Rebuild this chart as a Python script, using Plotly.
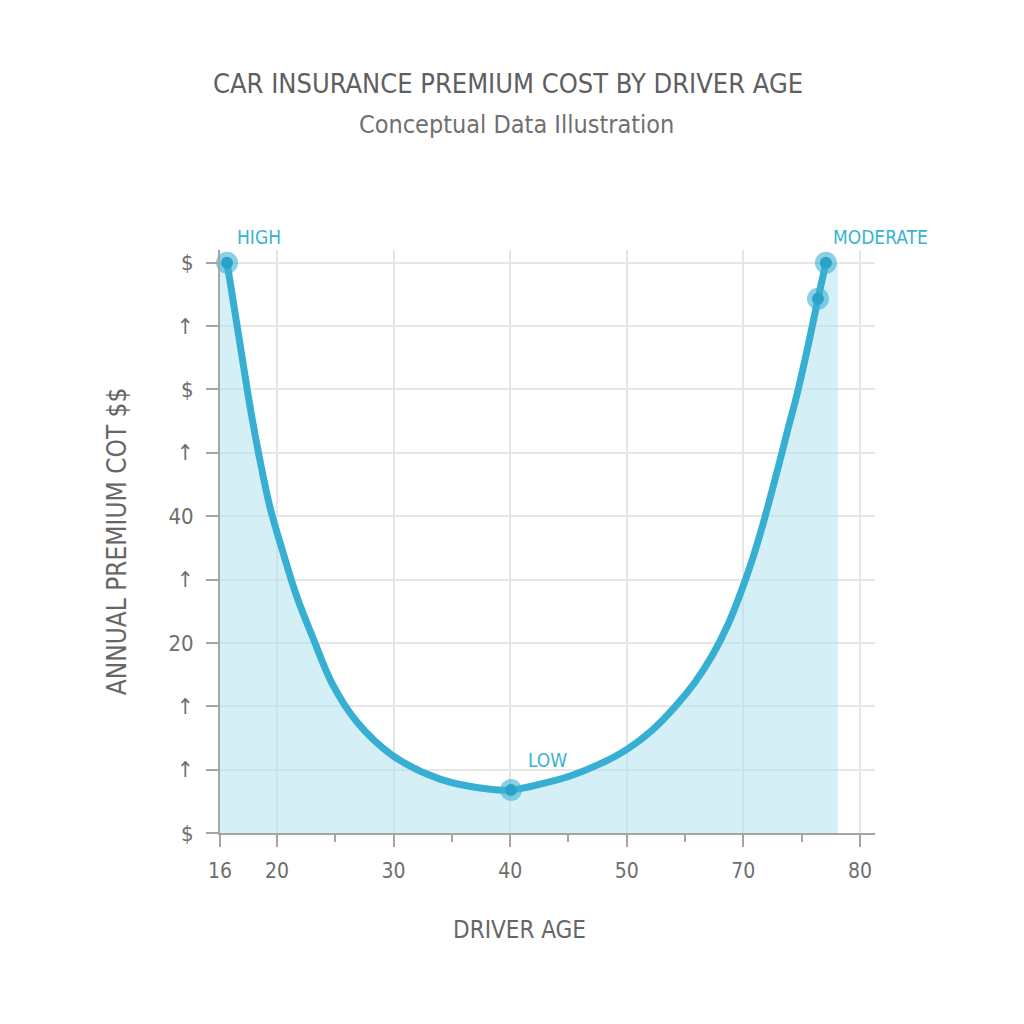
import plotly.graph_objects as go

# Curve (x in axis position units, y in tick-step units)
age_pos = [15.71, 16.40, 17.08, 17.77, 18.54, 19.40, 20.51, 21.72, 23.17, 24.72, 26.86,
           29.86, 33.98, 38.27, 40.07,
           42.56, 45.13, 47.70, 50.02, 52.16, 54.13, 55.85, 57.39, 58.68, 59.79, 60.74,
           61.60, 62.37, 63.14, 63.83, 64.60, 65.54, 66.40, 67.08]
premium = [9.00, 8.21, 7.42, 6.64, 5.88, 5.14, 4.43, 3.72, 3.04, 2.36, 1.75,
           1.23, 0.85, 0.69, 0.68,
           0.77, 0.90, 1.09, 1.32, 1.62, 1.99, 2.38, 2.82, 3.29, 3.80, 4.30,
           4.82, 5.34, 5.88, 6.38, 6.92, 7.68, 8.43, 9.00]

marker_x = [15.71, 40.07, 66.4, 67.08]
marker_y = [9.0, 0.68, 8.43, 9.0]

label_text = ["HIGH", "LOW", "MODERATE"]
label_x = [18.46, 43.16, 71.8]
label_y = [9.41, 1.15, 9.41]

x_tickvals = [15.11, 20, 30, 40, 50, 60, 70]
x_ticktext = ["16", "20", "30", "40", "50", "70", "80"]
x_minor = [25, 35, 45, 55, 65]

y_tickvals = [0, 1, 2, 3, 4, 5, 6, 7, 8, 9]
y_ticktext = ["$", "↑", "↑", "20", "↑", "40", "↑", "$", "↑", "$"]

fill_left = 15.11
fill_right = 68.11

X_RANGE = [15.11, 71.29]
Y_RANGE = [0, 9.2]

FONT = "Liberation Sans Narrow, DejaVu Sans Condensed, Roboto Condensed, Arial Narrow, sans-serif"
GREY = "#666666"
BLUE = "#36afd2"

# plot area in pixels: x 220..875, y 250..833
L, R, T, B = 220, 875, 250, 833


def px_to_paper(px):
    return (px - L) / (R - L)


def py_to_paper(py):
    return (B - py) / (B - T)


def data_to_paper(x, y):
    return ((x - X_RANGE[0]) / (X_RANGE[1] - X_RANGE[0]),
            (y - Y_RANGE[0]) / (Y_RANGE[1] - Y_RANGE[0]))


fig = go.Figure()

# Fill area
fx = [fill_left, fill_left] + age_pos + [fill_right, fill_right]
fy = [0, premium[0]] + premium + [premium[-1], 0]
fig.add_trace(go.Scatter(x=fx, y=fy, mode="lines", line=dict(width=0),
                         fill="toself", fillcolor="rgba(171,223,239,0.5)",
                         hoverinfo="skip", showlegend=False))

# Curve
fig.add_trace(go.Scatter(x=age_pos, y=premium, mode="lines",
                         line=dict(color=BLUE, width=7, shape="spline", smoothing=1.0),
                         showlegend=False, cliponaxis=False))

# Marker halos and centers
fig.add_trace(go.Scatter(x=marker_x, y=marker_y, mode="markers",
                         marker=dict(size=22, color="rgba(60,178,214,0.6)"),
                         showlegend=False, cliponaxis=False))
fig.add_trace(go.Scatter(x=marker_x, y=marker_y, mode="markers",
                         marker=dict(size=12, color="#2aa2c8"),
                         showlegend=False, cliponaxis=False))

for t, x, y in zip(label_text, label_x, label_y):
    ax, ay = data_to_paper(x, y)
    fig.add_annotation(x=ax, y=ay, xref="paper", yref="paper", text=t, showarrow=False,
                       xanchor="center", yanchor="middle",
                       font=dict(family=FONT, size=19, color="#3ab2d2"))

fig.add_annotation(x=px_to_paper(508), y=py_to_paper(83), xref="paper", yref="paper",
                   text="CAR INSURANCE PREMIUM COST BY DRIVER AGE", showarrow=False,
                   xanchor="center", yanchor="middle",
                   font=dict(family=FONT, size=27, color="#5f5f5f"))
fig.add_annotation(x=px_to_paper(516), y=py_to_paper(125), xref="paper", yref="paper",
                   text="Conceptual Data Illustration", showarrow=False,
                   xanchor="center", yanchor="middle",
                   font=dict(family=FONT, size=25, color="#707070"))
fig.add_annotation(x=px_to_paper(519), y=py_to_paper(930), xref="paper", yref="paper",
                   text="DRIVER AGE", showarrow=False,
                   xanchor="center", yanchor="middle",
                   font=dict(family=FONT, size=24, color=GREY))

fig.update_layout(
    width=1024, height=1024,
    paper_bgcolor="white", plot_bgcolor="white",
    margin=dict(l=L, r=1024 - R, t=T, b=1024 - B),
    font=dict(family=FONT, color=GREY),
    showlegend=False,
)

fig.update_xaxes(
    range=X_RANGE, tickmode="array", tickvals=x_tickvals, ticktext=x_ticktext,
    showline=True, linecolor="#a5a5a5", linewidth=2,
    ticks="outside", ticklen=12, tickwidth=2, tickcolor="#a5a5a5",
    tickfont=dict(family=FONT, size=21, color="#6e6e6e"), ticklabelstandoff=6,
    showgrid=True, gridcolor="#e6e6e6", gridwidth=1.5, zeroline=False,
    minor=dict(tickvals=x_minor, ticks="outside", ticklen=7, tickwidth=2,
               tickcolor="#a5a5a5", showgrid=False),
)
fig.update_yaxes(
    range=Y_RANGE, tickmode="array", tickvals=y_tickvals, ticktext=y_ticktext,
    showline=True, linecolor="#a5a5a5", linewidth=2,
    ticks="outside", ticklen=12, tickwidth=2, tickcolor="#a5a5a5",
    tickfont=dict(family=FONT, size=22, color="#6e6e6e"), ticklabelstandoff=8,
    showgrid=True, gridcolor="#e6e6e6", gridwidth=1.5, zeroline=False,
    title=dict(text="ANNUAL PREMIUM COT $$", font=dict(family=FONT, size=26, color=GREY), standoff=34),
)

fig.write_html("out.html")
